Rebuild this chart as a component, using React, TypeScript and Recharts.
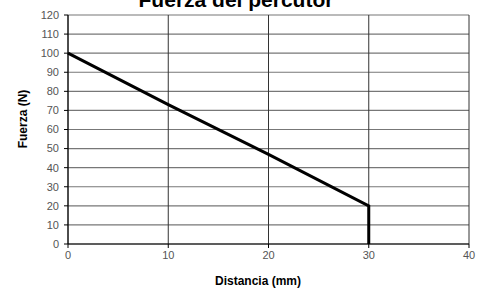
import { LineChart, Line, XAxis, YAxis, CartesianGrid } from "recharts";

const distancia = [0, 10, 20, 30, 30];
const fuerza = [100, 73, 47, 20, 0];
const xTicks = [0, 10, 20, 30, 40];
const yTicks = [0, 10, 20, 30, 40, 50, 60, 70, 80, 90, 100, 110, 120];

const data = distancia.map((d, i) => ({ d, f: fuerza[i] }));

const FONT = "'Liberation Sans', Arial, sans-serif";
const tickStyle = { fill: "#555", fontSize: 11, fontFamily: FONT };

export default function App() {
  return (
    <div style={{ position: "absolute", left: 0, top: 0, background: "#fff" }}>
      <LineChart width={478} height={289} data={data} margin={{ top: 15, right: 9, bottom: 15, left: 0 }}>
        <CartesianGrid vertical={false} stroke="#777" strokeWidth={1.2} />
        <CartesianGrid horizontal={false} stroke="#333" strokeWidth={1} />
        <XAxis
          dataKey="d"
          type="number"
          domain={[0, 40]}
          ticks={xTicks}
          height={30}
          stroke="#000"
          tickSize={4}
          tickMargin={3}
          tick={tickStyle}
        />
        <YAxis
          type="number"
          domain={[0, 120]}
          ticks={yTicks}
          width={68}
          stroke="#000"
          tickSize={4}
          tickMargin={5}
          tick={tickStyle}
          interval={0}
        />
        <Line
          type="linear"
          dataKey="f"
          stroke="#000"
          strokeWidth={3}
          dot={false}
          isAnimationActive={false}
        />
        <text x={236} y={7} textAnchor="middle" fontFamily={FONT} fontWeight="bold" fontSize={21} fill="#000">
          Fuerza del percutor
        </text>
        <text x={258} y={285} textAnchor="middle" fontFamily={FONT} fontWeight="bold" fontSize={12} fill="#000">
          Distancia (mm)
        </text>
        <text
          x={0}
          y={0}
          transform="translate(27,119) rotate(-90)"
          textAnchor="middle"
          fontFamily={FONT}
          fontWeight="bold"
          fontSize={12}
          fill="#000"
        >
          Fuerza (N)
        </text>
      </LineChart>
    </div>
  );
}
